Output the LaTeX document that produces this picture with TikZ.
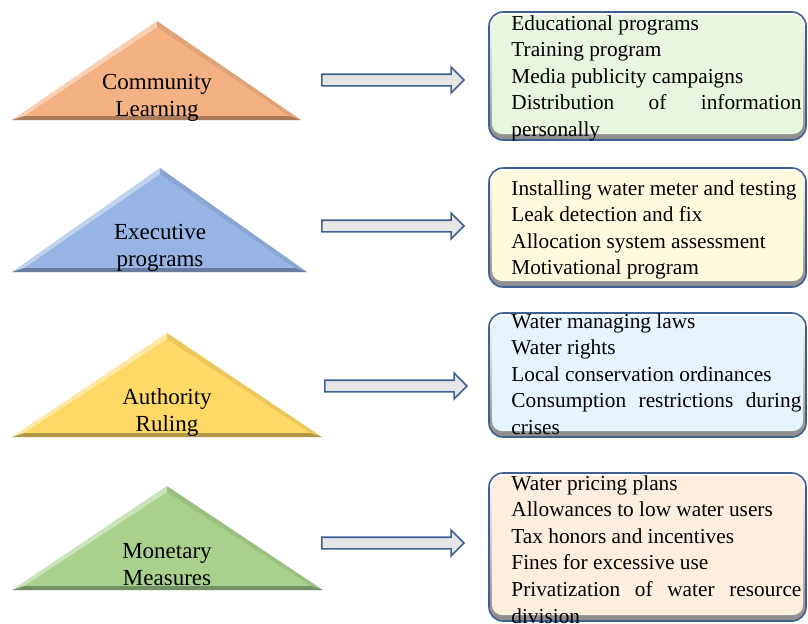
\documentclass[tikz,border=0pt]{standalone}
\usepackage{fontspec}
\setmainfont{Liberation Serif}
\usetikzlibrary{positioning}
\usetikzlibrary{shapes.arrows}

\definecolor{edgeblue}{RGB}{62,96,146}
\definecolor{arrowgray}{RGB}{231,230,230}
\definecolor{triorange}{RGB}{244,177,131}
\definecolor{triblue}{RGB}{150,180,228}
\definecolor{triyellow}{RGB}{255,217,102}
\definecolor{trigreen}{RGB}{169,209,142}
\definecolor{boxgreen}{RGB}{232,245,224}
\definecolor{boxyellow}{RGB}{255,250,222}
\definecolor{boxblue}{RGB}{232,244,252}
\definecolor{boxorange}{RGB}{253,238,222}

\tikzset{
        % Triangle labels
        trilabel/.style={align=center, inner sep=0pt, font=\fontsize{11.5}{13.5}\selectfont},
        % Item lists
        listtext/.style={anchor=north west, text width=145pt, align=justify, inner sep=0pt,
            font=\fontsize{10.65}{13.3}\selectfont, execute at begin node={\hyphenpenalty=10000\exhyphenpenalty=10000}},
        % Box frames
        listframe/.style={draw=edgeblue, line width=0.8pt, rounded corners=7pt},
        listbevel/.style={top color=white, bottom color=black!45, rounded corners=7pt},
        % Block arrows
        blockarrow/.style={single arrow, draw=edgeblue, fill=arrowgray, line width=0.8pt,
            minimum height=71pt, minimum width=0pt, single arrow head extend=3.5pt,
            single arrow head indent=0pt, text height=0pt, text depth=0pt,
            inner xsep=0pt, inner ysep=2.5pt}
}

% bevelled triangle: colour, apex x, apex y, right x, base y
\newcommand{\bevtri}[5]{
    \fill[#1] (12,#5) -- (#2,#3) -- (#4,#5) -- cycle;
    \fill[white, opacity=0.4] (12,#5) -- (#2,#3) -- (#2,#3+6) -- (24,#5-4) -- cycle;
    \fill[black, opacity=0.08] (#2,#3) -- (#4,#5) -- (#4-12,#5-4) -- (#2,#3+6) -- cycle;
    \fill[black, opacity=0.3] (12,#5) -- (24,#5-4) -- (#4-12,#5-4) -- (#4,#5) -- cycle;
}

% bevelled list box: fill colour, top y, bottom y
\newcommand{\bevbox}[3]{
    \shade[listbevel] (489,#2) rectangle (806,#3);
    \fill[#1, rounded corners=5pt] (492,#2+3) rectangle (803,#3-6);
    \draw[listframe] (489,#2) rectangle (806,#3);
}

\begin{document}
\begin{tikzpicture}[x=0.5pt, y=-0.5pt]
    \useasboundingbox (0,0) rectangle (808,623);

    % triangles
    \bevtri{triorange}{157}{21}{301}{120}
    \bevtri{triblue}{160}{168}{307}{272}
    \bevtri{triyellow}{167}{333}{322}{437}
    \bevtri{trigreen}{167}{486}{323}{590}

    \node[trilabel] (community) at (157,98) {Community\\Learning};
    \node[trilabel] (executive) at (160,248) {Executive\\programs};
    \node[trilabel] (authority) at (167,412) {Authority\\Ruling};
    \node[trilabel] (monetary) at (167,565) {Monetary\\Measures};

    % arrows
    \node[blockarrow] (arr1) at (390,80) {};
    \node[blockarrow] (arr2) at (390,226) {};
    \node[blockarrow] (arr3) at (393,386) {};
    \node[blockarrow] (arr4) at (390,543) {};

    % boxes
    \bevbox{boxgreen}{12}{140}
    \bevbox{boxyellow}{168}{287}
    \bevbox{boxblue}{313}{437}
    \bevbox{boxorange}{473}{621}

    \node[listtext] (learning_list) at (511,15) {Educational programs\par
        Training program\par
        Media publicity campaigns\par
        Distribution of information personally};
    \node[listtext] (executive_list) at (511,180) {Installing water meter and testing\par
        Leak detection and fix\par
        Allocation system assessment\par
        Motivational program};
    \node[listtext] (ruling_list) at (511,313) {Water managing laws\par
        Water rights\par
        Local conservation ordinances\par
        Consumption restrictions during crises};
    \node[listtext] (monetary_list) at (511,475) {Water pricing plans\par
        Allowances to low water users\par
        Tax honors and incentives\par
        Fines for excessive use\par
        Privatization of water resource division};
\end{tikzpicture}
\end{document}
